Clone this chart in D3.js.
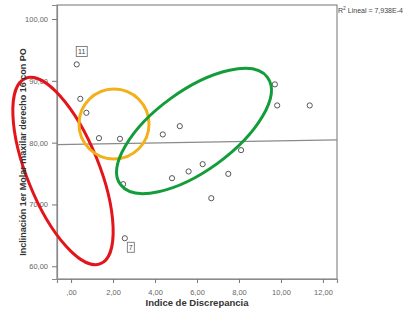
<!DOCTYPE html>
<html>
<head>
<meta charset="utf-8">
<script src="https://cdn.jsdelivr.net/npm/d3@7"></script>
<style>
  body { margin: 0; background: #fff; }
  svg { display: block; font-family: "Liberation Sans", Arial, sans-serif; }
</style>
</head>
<body>
<div id="chart"></div>
<script>
// Indice de Discrepancia vs inclinación 16
const xValues = [0.27, 0.44, 0.73, 1.33, 2.33, 4.37, 5.18, 9.71, 9.82, 11.37, 8.10, 2.48, 4.81, 5.60, 6.27, 7.49, 6.68, 2.56];
const yValues = [92.66, 87.09, 84.83, 80.73, 80.62, 81.33, 82.67, 89.43, 86.02, 86.02, 78.79, 73.28, 74.25, 75.34, 76.52, 74.95, 71.01, 64.53];
const caseLabels = ['11', '', '', '', '', '', '', '', '', '', '', '', '', '', '', '', '', '7'];
const xTicks = [0, 2, 4, 6, 8, 10, 12];
const yTicks = [60, 70, 80, 90, 100];
const r2Text = '7,938E-4';

const width = 403, height = 312;
const margin = {top: 5, right: 66, bottom: 33, left: 57};

const fmt = v => d3.format('.2f')(v).replace('.', ',').replace(/^0,/, ',');

const svg = d3.select('#chart').append('svg')
    .attr('width', width)
    .attr('height', height);

const x = d3.scaleLinear().domain([-0.67, 12.67]).range([margin.left, width - margin.right]);
const y = d3.scaleLinear().domain([57.94, 102.27]).range([height - margin.bottom, margin.top]);

// frame
svg.append('rect')
    .attr('x', margin.left).attr('y', margin.top)
    .attr('width', x.range()[1] - margin.left)
    .attr('height', y.range()[0] - margin.top)
    .attr('fill', 'none')
    .attr('stroke', '#8a8a8a')
    .attr('stroke-width', 1.2);

const xAxis = svg.append('g')
    .attr('transform', `translate(0,${y.range()[0]})`)
    .call(d3.axisBottom(x).tickValues(xTicks).tickFormat(fmt).tickSize(4));
const yAxis = svg.append('g')
    .attr('transform', `translate(${margin.left},0)`)
    .call(d3.axisLeft(y).tickValues(yTicks).tickFormat(fmt).tickSize(5));

[xAxis, yAxis].forEach(a => {
    a.select('.domain').attr('stroke', '#8a8a8a').attr('stroke-width', 1.2);
    a.selectAll('line').attr('stroke', '#777');
    a.selectAll('text').attr('fill', '#666').attr('font-size', '7.5px');
});
xAxis.selectAll('text').attr('dy', '1.2em');
yAxis.selectAll('text').attr('dx', '-1px');

// fit line (least squares)
const mx = d3.mean(xValues), my = d3.mean(yValues);
const slope = d3.sum(xValues, (v, i) => (v - mx) * (yValues[i] - my)) / d3.sum(xValues, v => (v - mx) ** 2);
const icpt = my - slope * mx;
const [x0, x1] = x.domain();
svg.append('line')
    .attr('x1', x(x0)).attr('y1', y(icpt + slope * x0))
    .attr('x2', x(x1)).attr('y2', y(icpt + slope * x1))
    .attr('stroke', '#8a8a8a')
    .attr('stroke-width', 1.2);

// points
svg.selectAll('circle.pt')
    .data(xValues.map((v, i) => ({x: v, y: yValues[i], label: caseLabels[i]})))
    .join('circle')
    .attr('class', 'pt')
    .attr('cx', d => x(d.x))
    .attr('cy', d => y(d.y))
    .attr('r', 2.6)
    .attr('fill', '#fff')
    .attr('stroke', '#555')
    .attr('stroke-width', 1);

// case labels in boxes
const labelled = xValues.map((v, i) => ({x: v, y: yValues[i], label: caseLabels[i]})).filter(d => d.label);
const offsets = {'11': [5, -13], '7': [6, 9]};
labelled.forEach(d => {
    const [dx, dy] = offsets[d.label];
    const cx = x(d.x) + dx, cy = y(d.y) + dy;
    const w = d.label.length * 4 + 3;
    svg.append('rect')
        .attr('x', cx - w / 2).attr('y', cy - 5)
        .attr('width', w).attr('height', 10)
        .attr('fill', '#fff')
        .attr('stroke', '#666')
        .attr('stroke-width', 0.8);
    svg.append('text')
        .attr('x', cx).attr('y', cy + 3)
        .attr('text-anchor', 'middle')
        .attr('font-size', '7px')
        .attr('fill', '#444')
        .text(d.label);
});

// hand-drawn ellipses
const ellipses = [
    {cx: 63, cy: 171, rx: 100, ry: 36, rot: 68, color: '#e3151b'},
    {cx: 114, cy: 124, rx: 35, ry: 35, rot: 0, color: '#f3b019'},
    {cx: 194, cy: 131, rx: 91, ry: 40, rot: -36, color: '#139c3a'}
];
svg.selectAll('ellipse')
    .data(ellipses)
    .join('ellipse')
    .attr('cx', d => d.cx).attr('cy', d => d.cy)
    .attr('rx', d => d.rx).attr('ry', d => d.ry)
    .attr('transform', d => `rotate(${d.rot},${d.cx},${d.cy})`)
    .attr('fill', 'none')
    .attr('stroke', d => d.color)
    .attr('stroke-width', 3);

// titles
svg.append('text')
    .attr('x', 197).attr('y', 306)
    .attr('text-anchor', 'middle')
    .attr('font-size', '9.5px')
    .attr('font-weight', 'bold')
    .attr('fill', '#333')
    .text('Indice de Discrepancia');

svg.append('text')
    .attr('transform', 'translate(26,152) rotate(-90)')
    .attr('text-anchor', 'middle')
    .attr('font-size', '9px')
    .attr('font-weight', 'bold')
    .attr('fill', '#333')
    .text('Inclinación 1er Molar maxilar derecho 16 con PO');

const r2 = svg.append('text')
    .attr('x', 338).attr('y', 13)
    .attr('font-size', '7px')
    .attr('fill', '#444');
r2.append('tspan').text('R');
r2.append('tspan').attr('font-size', '5px').attr('dy', -3).text('2');
r2.append('tspan').attr('dy', 3).text(' Lineal = ' + r2Text);
</script>
</body>
</html>
